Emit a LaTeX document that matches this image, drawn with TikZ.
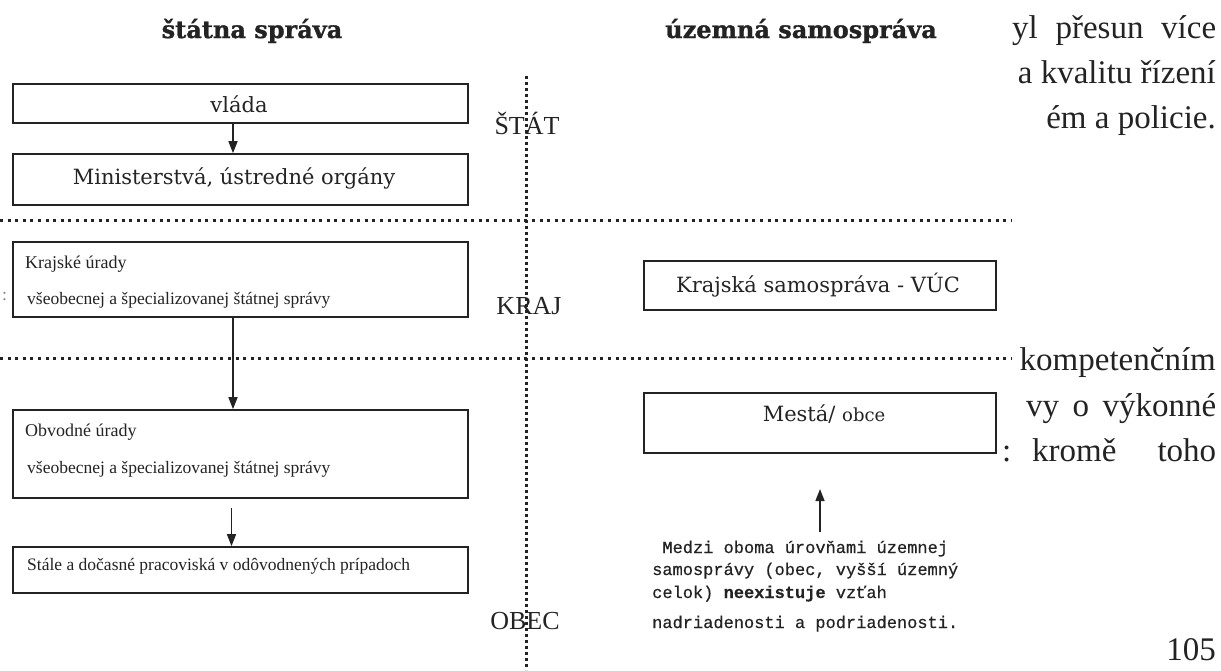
\documentclass[tikz,border=0pt]{standalone}
\usepackage{fontspec}
\setmainfont{Liberation Serif}
\newfontfamily\slab{DejaVu Serif}
\newfontfamily\ttlfont[FakeBold=1.2]{DejaVu Serif}
\newfontfamily\typew[FakeBold=0.5]{Liberation Mono}
\usetikzlibrary{arrows.meta}
\definecolor{ink}{RGB}{35,35,35}
\begin{document}
\begin{tikzpicture}[x=1pt,y=-1pt,
  box/.style={draw=ink, line width=1.6pt, inner sep=0pt},
  hdots/.style={draw=ink, line width=3pt, dash pattern=on 3pt off 4.6pt},
  vdots/.style={draw=ink, line width=3pt, dash pattern=on 3pt off 3pt},
  arr/.style={draw=ink, line width=1.4pt, -{Triangle[length=12pt,width=9pt]}},
  ttl/.style={font=\ttlfont\bfseries\fontsize{24}{28}\selectfont, text=ink, inner sep=0pt, anchor=base},
  lvl/.style={font=\fontsize{26}{30}\selectfont, text=ink, inner sep=0pt, anchor=base},
  boxtxt/.style={font=\slab\fontsize{21}{25}\selectfont, text=ink, inner sep=0pt, anchor=base},
  lab/.style={font=\fontsize{18}{22}\selectfont, text=ink, inner sep=0pt, anchor=base west},
  sub/.style={font=\fontsize{17.5}{20}\selectfont, text=ink, inner sep=0pt, anchor=base west},
  side/.style={font=\fontsize{33}{36}\selectfont, text=ink, inner sep=0pt},
  note/.style={font=\typew\fontsize{17}{22}\selectfont, text=ink, inner sep=0pt, anchor=base west}]
\useasboundingbox (0,0) rectangle (1221,670);

% titles
\node[ttl] (t1) at (252,38) {štátna správa};
\node[ttl] (t2) at (801,38) {územná samospráva};

% separators
\coordinate (vtop) at (526,76);
\coordinate (vbot) at (526,670);
\draw[vdots] (vtop) -- (vbot);
\coordinate (h1a) at (0,220);
\coordinate (h1b) at (1012,220);
\coordinate (h2a) at (0,358);
\coordinate (h2b) at (1012,358);
\draw[hdots] (h1a) -- (h1b);
\draw[hdots] (h2a) -- (h2b);

% level labels
\node[lvl] (stat) at (527,134) {ŠTÁT};
\node[lvl] (kraj) at (529,314) {KRAJ};
\node[lvl] (obec) at (525,629) {OBEC};

% left column
\node[box, minimum width=455pt, minimum height=39pt] (vlada) at (240.5,103.5) {};
\node[boxtxt] (vladat) at (239,112) {vláda};
\node[box, minimum width=455pt, minimum height=51pt] (mini) at (240.5,179.5) {};
\node[boxtxt] (minit) at (234,184) {Ministerstvá, ústredné orgány};

\node[box, minimum width=455pt, minimum height=75pt] (krajb) at (240.5,279.5) {};
\node[lab] (krajt) at (25,268) {Krajské úrady};
\node[sub] (krajs) at (27,304) {všeobecnej a špecializovanej štátnej správy};

\node[box, minimum width=455pt, minimum height=88pt] (obv) at (240.5,454) {};
\node[lab] (obvt) at (25,436) {Obvodné úrady};
\node[sub] (obvs) at (27,473) {všeobecnej a špecializovanej štátnej správy};

\node[box, minimum width=455pt, minimum height=46pt] (stale) at (240.5,570) {};
\node[sub] (stalet) at (27,570) {Stále a dočasné pracoviská v odôvodnených prípadoch};

\draw[arr] ([xshift=-7.5pt]vlada.south) -- ([xshift=-7.5pt]mini.north);
\draw[arr] ([xshift=-7.5pt]krajb.south) -- ([xshift=-7.5pt]obv.north);
\draw[arr] ([xshift=-9pt,yshift=-9pt]obv.south) -- ([xshift=-9pt]stale.north);

% right column
\node[box, minimum width=352pt, minimum height=49pt] (vuc) at (820,285.5) {};
\node[boxtxt] (vuct) at (818,292) {Krajská samospráva - VÚC};
\node[box, minimum width=352pt, minimum height=60pt] (mesta) at (820,423) {};
\node[boxtxt] (mestat) at (824,421) {Mestá/ {\fontsize{18}{20}\selectfont obce}};

\coordinate (uptail) at (820,532);
\coordinate (uptip) at (820,489);
\draw[arr] (uptail) -- (uptip);

\node[note] (n1) at (652,553) {\ Medzi oboma úrovňami územnej};
\node[note] (n2) at (652,575) {samosprávy (obec, vyšší územný};
\node[note] (n3) at (652,598) {celok) {\bfseries neexistuje} vzťah};
\node[note] (n4) at (652,628) {nadriadenosti a podriadenosti.};

% fragments of the surrounding page text
\node[side, anchor=base west] (s1) at (1012,38) {\makebox[204pt][s]{yl přesun více}};
\node[side, anchor=base east] (s2) at (1216,83) {a kvalitu řízení};
\node[side, anchor=base east] (s3) at (1216,128) {ém a policie.};
\node[side, anchor=base east] (s4) at (1216,370) {kompetenčním};
\node[side, anchor=base west] (s5) at (1026,416) {\makebox[190pt][s]{vy o výkonné}};
\node[side, anchor=base west] (s6a) at (1002,461) {:};
\node[side, anchor=base west] (s6) at (1032,461) {\makebox[184pt][s]{kromě toho}};
\node[side, anchor=base east] (s7) at (1216,660) {105};
\node[sub, text=gray] (speck) at (2,300) {:};
\end{tikzpicture}
\end{document}
